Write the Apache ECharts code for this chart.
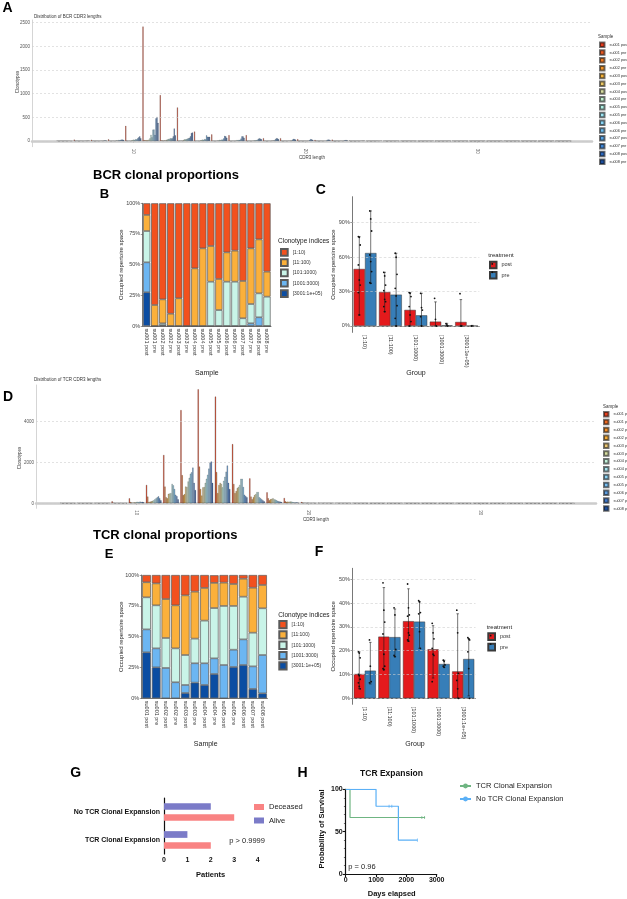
<!DOCTYPE html>
<html>
<head>
<meta charset="utf-8">
<title>BCR / TCR repertoire figure</title>
<script src="https://cdn.jsdelivr.net/npm/echarts@6/dist/echarts.min.js"></script>
<style>
html,body{margin:0;padding:0;background:#ffffff;}
#page{position:relative;width:627px;height:899px;overflow:hidden;background:#fff;}
.layer{position:absolute;left:0;top:0;width:627px;height:899px;}
</style>
</head>
<body>
<div id="page">
  <div id="chartA" class="layer"></div>
  <div id="chartD" class="layer"></div>
  <div id="chartMain" class="layer"></div>
</div>
<script>
// ---------------- DATA ----------------
const cdr3Lengths = [6,7,8,9,10,11,12,13,14,15,16,17,18,19,20,21,22,23,24,25,26,27,28,29,30,31,32,33,34,35];
const cdr3TickLabels = [10,20,30];

const bcrSamples = ['su001 post','su001 pre','su002 post','su002 pre','su003 post','su003 pre','su004 post','su004 pre',
  'su005 post','su005 pre','su006 post','su006 pre','su007 post','su007 pre','su008 post','su008 pre'];
const tcrSamples = ['su001 post','su001 pre','su002 post','su002 pre','su003 post','su003 pre','su004 post','su004 pre',
  'su005 post','su005 pre','su006 post','su007 post','su008 post'];

// BCR clonotype counts per CDR3 length (lengths 6..35)
const bcrSu001Post = [8,30,28,38,320,2420,970,710,200,140,125,125,60,60,40,25,30,12,8,6,5,4,3,2,2,0,1,0,0,1];
const bcrSu001Pre  = [4,6,5,8,12,20,15,10,8,6,5,4,3,3,2,2,1,1,1,0,1,0,0,0,0,0,0,0,0,0];
const bcrSu002Post = [3,5,4,6,10,18,14,12,9,6,5,4,3,2,2,1,1,1,0,0,0,0,0,0,0,0,0,0,0,0];
const bcrSu002Pre  = [2,4,3,5,8,15,12,10,8,6,4,3,2,2,1,1,1,0,0,0,0,0,0,0,0,0,0,0,0,0];
const bcrSu003Post = [3,4,4,6,10,20,15,12,10,8,6,5,4,3,2,2,1,1,1,0,1,0,0,0,0,0,0,0,0,0];
const bcrSu003Pre  = [2,3,3,5,8,15,12,10,8,6,5,4,3,2,2,1,1,1,0,0,0,0,0,0,0,0,0,0,0,0];
const bcrSu004Post = [3,4,5,8,15,30,25,20,15,12,10,8,6,5,4,3,2,1,1,1,2,1,0,0,0,0,0,0,0,0];
const bcrSu004Pre  = [3,5,6,10,20,60,30,35,20,15,12,10,8,6,5,4,3,2,1,1,2,1,1,0,0,0,0,0,0,0];
const bcrSu005Post = [4,6,8,15,30,130,45,35,30,25,20,15,12,10,8,6,5,3,2,2,3,2,1,1,0,0,0,0,0,0];
const bcrSu005Pre  = [4,6,8,12,25,80,40,40,25,20,18,15,12,10,8,6,4,3,2,2,3,2,1,1,0,0,1,0,0,0];
const bcrSu006Post = [5,8,10,20,40,240,60,50,40,30,25,20,15,12,10,8,6,4,3,2,3,2,2,1,1,0,1,0,0,0];
const bcrSu006Pre  = [5,8,10,18,35,245,55,60,35,30,25,20,15,12,10,8,6,4,3,2,3,2,2,1,1,0,1,0,0,1];
const bcrSu007Post = [6,10,12,25,60,130,60,70,120,55,50,45,40,30,25,20,15,10,6,4,4,3,3,2,1,0,2,0,0,1];
const bcrSu007Pre  = [8,12,15,30,80,480,100,100,90,110,100,60,60,45,40,30,20,12,8,5,5,4,3,2,2,0,2,0,0,2];
const bcrSu008Post = [8,12,15,30,100,510,265,170,90,100,100,50,55,40,35,30,20,12,8,5,5,4,3,2,2,0,2,0,0,2];
const bcrSu008Pre  = [6,10,12,25,60,385,120,180,90,70,70,40,40,30,25,20,15,10,6,4,4,3,2,2,1,0,1,0,0,1];

// TCR clonotype counts per CDR3 length (lengths 6..35)
const tcrSu001Post = [10,15,20,100,245,900,2370,4570,5590,5230,2900,1220,540,260,60,30,20,10,5,3,2,1,2,0,0,0,0,0,0,1];
const tcrSu001Pre  = [5,8,10,30,60,330,820,1380,1800,1530,950,330,250,100,40,20,15,8,4,2,1,1,1,0,0,0,0,0,0,1];
const tcrSu002Post = [3,5,8,20,40,60,300,400,700,500,500,200,150,60,30,15,10,5,3,2,2,1,1,0,0,0,0,0,0,0];
const tcrSu002Pre  = [3,5,6,10,30,80,250,450,380,900,600,300,200,80,30,15,10,5,3,2,2,1,1,0,0,0,0,0,0,0];
const tcrSu003Post = [4,6,8,15,50,100,460,820,780,1000,750,400,220,70,25,15,10,5,3,2,2,1,1,0,0,0,0,0,0,0];
const tcrSu003Pre  = [4,6,8,10,40,120,480,800,800,950,800,450,250,90,30,20,10,6,3,2,2,1,1,0,0,0,0,0,0,0];
const tcrSu004Post = [4,5,8,10,60,150,500,1070,1000,780,900,550,200,80,25,15,10,5,3,2,2,1,1,0,0,0,0,0,0,0];
const tcrSu004Pre  = [5,6,10,15,70,200,950,1250,1200,1100,1200,550,180,60,20,15,10,5,3,2,2,1,1,0,0,0,0,0,0,0];
const tcrSu005Post = [5,6,10,10,60,250,880,1450,1400,1300,1200,300,150,50,20,15,10,5,3,2,2,1,1,0,0,0,0,0,0,0];
const tcrSu005Pre  = [5,6,10,10,80,300,700,1520,1700,1550,800,250,120,40,15,10,8,5,3,2,2,1,1,0,0,0,0,0,0,0];
const tcrSu006Post = [4,5,8,8,60,340,420,1750,2000,1850,420,200,100,50,20,10,8,4,2,2,2,1,1,0,0,0,0,0,0,0];
const tcrSu007Post = [6,8,12,12,70,250,350,1000,2050,1000,350,150,80,40,15,10,8,4,2,2,2,1,1,0,0,0,0,0,0,0];
const tcrSu008Post = [5,6,10,10,50,150,200,650,1000,700,300,100,60,30,10,8,6,3,2,2,2,1,1,0,0,0,0,0,0,0];

const bcrYTicks = [0,500,1000,1500,2000,2500];
const tcrYTicks = [0,2000,4000];

// Clonal proportion indices
const clonoNames = ['[1:10)','[11:100)','[101:1000)','[1001:3000)','[3001:1e+05)'];

// B: BCR clonal proportions (%) per sample
const bClono1      = [9.5,82.9,78.3,90,77.4,100,53,36.7,34.8,61.7,40,38.6,63.3,36.7,29.4,55.7];
const bClono11     = [13.1,17.1,19.5,10,22.6,0,47,63.3,29.1,25.3,23.9,25.3,30.4,45.4,44,20.4];
const bClono101    = [25.5,0,1.5,0,0,0,0,0,36.1,13,36.1,36.1,6.3,15.7,19.5,23.9];
const bClono1001   = [24.4,0,0.7,0,0,0,0,0,0,0,0,0,0,2.2,7.1,0];
const bClono3001   = [27.5,0,0,0,0,0,0,0,0,0,0,0,0,0,0,0];

// E: TCR clonal proportions (%) per sample
const eClono1      = [5.9,6.8,19.5,24.6,16.5,13.5,10.5,6.2,6.2,7.3,3,10.3,8.1];
const eClono11     = [12.2,17.8,31.6,34.9,48.4,38.1,26.5,20.4,18.9,17.8,14.6,36.5,18.9];
const eClono101    = [26,34.9,24.3,27.5,24.3,20,34.6,40.8,47.9,35.5,34.6,27.3,37.9];
const eClono1001   = [18.6,15.4,24.6,13,6.5,15.7,17.6,12.7,27,14,20.8,18.3,31.1];
const eClono3001   = [37.3,25.1,0,0,4.3,12.7,10.8,19.7,0,25.4,27,7.6,4];

// C: BCR by group, post vs pre (mean, error range, individual points)
const cPostMean = [49.7,29.6,14,3.8,3.5];
const cPreMean  = [63.6,27.3,9.3,0.6,0.2];
const cPostLow  = [9.6,12.5,0,0,0];
const cPostHigh = [77.9,46.8,29.1,21,23];
const cPreLow   = [37.2,0,0,0,0];
const cPreHigh  = [100.3,63.4,28.5,2.3,0.5];
const cPostPts  = [[77.9,77.3,70.6,53.2,40.1,35.7,29.1,9.6],[46.8,43.6,35.7,30.8,23.2,21.2,16.9,12.5],[29.1,28.5,25.6,16.9,9.6,3.8,0],[24.1,5.8,0],[28.2,0,0]];
const cPrePts   = [[100.3,93.3,82.8,61.9,56.1,47.4,37.8,37.2],[63.4,59.9,45,32.8,26.2,17.7,6.7,0],[28.5,16,13.9,8.1,0],[2,0.9,0],[0]];

// F: TCR by group, post vs pre
const fPostMean = [10.2,25.9,32.4,20.6,11.3];
const fPreMean  = [11.6,25.7,32.2,14.4,16.5];
const fPostLow  = [4,12,24,8.5,0];
const fPostHigh = [19.5,46.5,46,30.5,35.5];
const fPreLow   = [6,17.5,21,13,1];
const fPreHigh  = [23.5,37.5,40.5,16,25];
const fPostPts  = [[19.5,19,17,10,9.5,8,6.5,5,4],[48.5,37,32,27,18.5,13.5,12.5,12],[48,38,35,34.5,27.5,26.5,24.5,24],[31.5,27.5,25,21,18.5,18,7],[37,27.5,10.5,7.5,4,0]];
const fPrePts   = [[24.5,13.5,7,6.5],[38,35,20.5,18,17.5],[41,40.5,36,35.5,28,21],[16,15.5,14,13.5,13],[25.5,25,24.5,19.5,12.5,0]];

const cTicks = [0,30,60,90];
const fTicks = [0,10,20,30,40,50];

// G: patients
const gCategories = ['TCR Clonal Expansion','No TCR Clonal Expansion'];
const gDeceased = [2,3];
const gAlive    = [1,2];

// H: Kaplan-Meier
const hTcrDays    = [0,142,2617];
const hTcrSurv    = [100,66.7,66.7];
const hTcrCensorDays = [2510,2600];
const hTcrCensorSurv = [66.7,66.7];
const hNoTcrDays  = [0,1000,1737,2363];
const hNoTcrSurv  = [100,80,40,40];
const hNoTcrCensorDays = [1430,1520,2363];
const hNoTcrCensorSurv = [80,80,40];

// ---------------- STYLE ----------------
const FONT = "'Liberation Sans', Arial, Helvetica, sans-serif";
const bcrColors = ['#E63B1C','#EC5A20','#F07A24','#F3962A','#F3B038','#EBC866','#D6DCA0','#C2F0D0',
  '#B0F0E4','#9DE4F2','#88D4F5','#70BEF0','#58A4E6','#3E86D6','#2C68BE','#1B4E9E'];
const tcrColors = ['#E8411E','#EE6A22','#F28E2A','#F5AC36','#EDC874','#D8DEA2','#C4F2DC','#A9E6F0',
  '#8ED4F4','#78BEF0','#5E9EE0','#3F78CC','#1C4FA2'];
const clonoColors = ['#F2511E','#FBB03B','#C9F4E8','#6CB6F2','#0B4DA2'];
const postColor = '#E41A1C', preColor = '#377EB8';
const plain = v => String(v);

// ---------------- PANELS A & D ----------------
function makeLengthPanel(domId, cfg) {
  const chart = echarts.init(document.getElementById(domId));
  const unit = cfg.gridW / (cfg.xMax - cfg.xMin);
  const bw = unit * 0.9 / cfg.samples.length;
  const series = cfg.samples.map((name, k) => ({
    name, type: 'bar', barWidth: bw, barGap: '0%', animation: false, silent: true, z: 3,
    data: cdr3Lengths.map((L, i) => [L, cfg.counts[k][i]]),
    itemStyle: { color: cfg.colors[k], borderColor: 'rgba(20,20,20,0.6)', borderWidth: 0.4 }
  }));
  series.push({
    type: 'line', data: [], z: 1, silent: true,
    markLine: { silent: true, symbol: ['none','none'], label: { show: false }, animation: false,
      lineStyle: { type: [2,2], color: '#cfcfcf', width: 0.6 },
      data: cfg.yTicks.map(v => ({ yAxis: v })) }
  });
  chart.setOption({
    animation: false,
    textStyle: { fontFamily: FONT },
    grid: { left: cfg.gridL, top: cfg.gridT, width: cfg.gridW, height: cfg.gridH },
    xAxis: { type: 'value', min: cfg.xMin, max: cfg.xMax,
      axisLine: { lineStyle: { color: '#cccccc', width: 2.5 } },
      axisTick: { show: true, customValues: cdr3TickLabels, length: 1.5, lineStyle: { color: '#999', width: 0.5 } },
      axisLabel: { customValues: cdr3TickLabels, formatter: plain, rotate: -90, fontSize: 4.5, color: '#555', margin: 2 },
      splitLine: { show: false } },
    yAxis: { type: 'value', min: cfg.yMin, max: cfg.yMax,
      axisLine: { show: true, lineStyle: { color: '#aaaaaa', width: 0.5 } },
      axisTick: { show: false },
      axisLabel: { customValues: cfg.yTicks, formatter: plain, fontSize: 4.5, color: '#555', margin: 2 },
      splitLine: { show: false } },
    legend: { orient: 'vertical', left: cfg.legL, top: cfg.legT, padding: 0, icon: 'rect',
      itemWidth: 4.5, itemHeight: 4.5, itemGap: cfg.legGap, selectedMode: false,
      textStyle: { fontSize: 3.8, color: '#333' }, data: cfg.samples },
    series
  });
}

makeLengthPanel('chartA', {
  samples: bcrSamples, colors: bcrColors,
  counts: [bcrSu001Post,bcrSu001Pre,bcrSu002Post,bcrSu002Pre,bcrSu003Post,bcrSu003Pre,bcrSu004Post,bcrSu004Pre,
           bcrSu005Post,bcrSu005Pre,bcrSu006Post,bcrSu006Pre,bcrSu007Post,bcrSu007Pre,bcrSu008Post,bcrSu008Pre],
  gridL: 32, gridT: 20, gridW: 560, gridH: 126.7, xMin: 4.11, xMax: 36.67, yMin: -120, yMax: 2558,
  yTicks: bcrYTicks, legL: 599, legT: 41.5, legGap: 1.3
});
makeLengthPanel('chartD', {
  samples: tcrSamples, colors: tcrColors,
  counts: [tcrSu001Post,tcrSu001Pre,tcrSu002Post,tcrSu002Pre,tcrSu003Post,tcrSu003Pre,tcrSu004Post,tcrSu004Pre,
           tcrSu005Post,tcrSu005Pre,tcrSu006Post,tcrSu007Post,tcrSu008Post],
  gridL: 36, gridT: 385, gridW: 560, gridH: 123.3, xMin: 4.16, xMax: 36.7, yMin: -245, yMax: 5800,
  yTicks: tcrYTicks, legL: 603, legT: 411, legGap: 1.35
});

// ---------------- MAIN (B, C, E, F, G, H) ----------------
const main = echarts.init(document.getElementById('chartMain'));

function txt(text, x, y, o) {
  o = o || {};
  const al = o.align || 'center', va = o.valign || 'middle';
  return { type: 'text', x, y, rotation: o.rot || 0, silent: true, z: 100,
    style: { text, font: (o.bold ? 'bold ' : '') + (o.size || 6) + 'px ' + FONT, fill: o.color || '#222',
      align: al, verticalAlign: va, textAlign: al, textVerticalAlign: va } };
}

function catXAxis(gridIndex, data, fs) {
  return { type: 'category', gridIndex, data,
    axisLine: { lineStyle: { color: '#555', width: 0.8 } },
    axisTick: { alignWithLabel: true, length: 2, lineStyle: { color: '#555', width: 0.6 } },
    axisLabel: { rotate: -90, fontSize: fs, color: '#333', margin: 2.5, interval: 0 } };
}
function pctYAxis(gridIndex, min, max, ticks) {
  return { type: 'value', gridIndex, min, max,
    axisLine: { show: true, lineStyle: { color: '#555', width: 0.8 } },
    axisTick: { show: true, customValues: ticks, length: 2, lineStyle: { color: '#555', width: 0.6 } },
    axisLabel: { customValues: ticks, formatter: v => v + '%', fontSize: 5.5, color: '#444', margin: 2.5 },
    splitLine: { show: false } };
}

function stackSeries(xi, arrays, stackId) {
  const out = [];
  for (let j = 4; j >= 0; j--) {
    out.push({ name: clonoNames[j], type: 'bar', stack: stackId, xAxisIndex: xi, yAxisIndex: xi,
      data: arrays[j], barCategoryGap: '10%', silent: true,
      itemStyle: { color: clonoColors[j], borderColor: '#5a5a5a', borderWidth: 0.7 } });
  }
  return out;
}

function gridLineSeries(xi, values) {
  return { type: 'line', data: [], xAxisIndex: xi, yAxisIndex: xi, z: 1, silent: true,
    markLine: { silent: true, symbol: ['none','none'], label: { show: false }, animation: false,
      lineStyle: { type: [2.5,2], color: '#cfcfcf', width: 0.6 }, data: values.map(v => ({ yAxis: v })) } };
}

function groupBars(xi, postMean, preMean) {
  return [
    { name: 'post', type: 'bar', xAxisIndex: xi, yAxisIndex: xi, data: postMean, barGap: '0%', barCategoryGap: '10%', z: 2,
      silent: true, itemStyle: { color: postColor, borderColor: '#3a3a3a', borderWidth: 0.5 } },
    { name: 'pre', type: 'bar', xAxisIndex: xi, yAxisIndex: xi, data: preMean, barGap: '0%', barCategoryGap: '10%', z: 2,
      silent: true, itemStyle: { color: preColor, borderColor: '#3a3a3a', borderWidth: 0.5 } }
  ];
}

function errBars(xi, lows, highs, side) {
  return { type: 'custom', xAxisIndex: xi, yAxisIndex: xi, z: 5, silent: true,
    data: lows.map((lo, i) => [i, lo, highs[i]]),
    renderItem: (params, api) => {
      const bw = api.size([1, 0])[0];
      const c = api.value(0);
      const lo = api.coord([c, api.value(1)]);
      const hi = api.coord([c, api.value(2)]);
      const x = lo[0] + side * bw * 0.225;
      const cap = bw * 0.05;
      const st = { stroke: '#1a1a1a', lineWidth: 0.6 };
      return { type: 'group', children: [
        { type: 'line', shape: { x1: x, y1: lo[1], x2: x, y2: hi[1] }, style: st },
        { type: 'line', shape: { x1: x - cap, y1: lo[1], x2: x + cap, y2: lo[1] }, style: st },
        { type: 'line', shape: { x1: x - cap, y1: hi[1], x2: x + cap, y2: hi[1] }, style: st } ] };
    } };
}

function pointSeries(xi, pts, side) {
  const data = [];
  pts.forEach((arr, g) => arr.forEach((v, k) => data.push([g, v, k])));
  return { type: 'custom', xAxisIndex: xi, yAxisIndex: xi, z: 6, silent: true, data,
    renderItem: (params, api) => {
      const bw = api.size([1, 0])[0];
      const p = api.coord([api.value(0), api.value(1)]);
      const k = api.value(2);
      const jit = ((k % 3) - 1) * bw * 0.035;
      return { type: 'circle', shape: { cx: p[0] + side * bw * 0.225 + jit, cy: p[1], r: 0.9 }, style: { fill: '#111' } };
    } };
}

const grids = [
  { left: 142.7, top: 203.3, width: 128.3, height: 122.7 },  // B
  { left: 352.3, top: 196.7, width: 127,   height: 135.7 },  // C
  { left: 141.7, top: 575,   width: 125.7, height: 123.3 },  // E
  { left: 352.5, top: 568.3, width: 123,   height: 136 },    // F
  { left: 164,   top: 798,   width: 93.6,  height: 56 },     // G
  { left: 345.7, top: 789.3, width: 91,    height: 84.7 }    // H
];

const prismAxisLine = { lineStyle: { color: '#111', width: 1.2 } };
const prismLabel = { fontSize: 7, fontWeight: 'bold', color: '#111', margin: 3, formatter: plain };

const xAxes = [
  catXAxis(0, bcrSamples, 5.5),
  catXAxis(1, clonoNames, 5.5),
  catXAxis(2, tcrSamples, 5.5),
  catXAxis(3, clonoNames, 5.5),
  { type: 'value', gridIndex: 4, min: 0, max: 4, interval: 1, axisLine: prismAxisLine,
    axisTick: { length: 3, lineStyle: { color: '#111', width: 1.1 } }, axisLabel: prismLabel, splitLine: { show: false } },
  { type: 'value', gridIndex: 5, min: 0, max: 3000, interval: 1000, axisLine: prismAxisLine,
    axisTick: { length: 3, lineStyle: { color: '#111', width: 1.1 } }, axisLabel: prismLabel, splitLine: { show: false } }
];
const yAxes = [
  pctYAxis(0, 0, 100, [0,25,50,75,100]),
  pctYAxis(1, -5.6, 112.7, cTicks),
  pctYAxis(2, 0, 100, [0,25,50,75,100]),
  pctYAxis(3, -2.52, 54.6, fTicks),
  { type: 'category', gridIndex: 4, data: gCategories, axisLine: prismAxisLine,
    axisTick: { alignWithLabel: true, length: 3, lineStyle: { color: '#111', width: 1.1 } },
    axisLabel: { fontSize: 7, fontWeight: 'bold', color: '#111', margin: 4 } },
  { type: 'value', gridIndex: 5, min: 0, max: 100, interval: 50, axisLine: prismAxisLine,
    axisTick: { length: 3, lineStyle: { color: '#111', width: 1.1 } },
    minorTick: { show: true, splitNumber: 5, length: 1.8, lineStyle: { color: '#111', width: 0.6 } },
    axisLabel: prismLabel, splitLine: { show: false } }
];

const series = [].concat(
  stackSeries(0, [bClono1, bClono11, bClono101, bClono1001, bClono3001], 'B'),
  [gridLineSeries(1, cTicks)],
  groupBars(1, cPostMean, cPreMean),
  [errBars(1, cPostLow, cPostHigh, -1), errBars(1, cPreLow, cPreHigh, 1),
   pointSeries(1, cPostPts, -1), pointSeries(1, cPrePts, 1)],
  stackSeries(2, [eClono1, eClono11, eClono101, eClono1001, eClono3001], 'E'),
  [gridLineSeries(3, fTicks)],
  groupBars(3, fPostMean, fPreMean),
  [errBars(3, fPostLow, fPostHigh, -1), errBars(3, fPreLow, fPreHigh, 1),
   pointSeries(3, fPostPts, -1), pointSeries(3, fPrePts, 1)],
  [
    { name: 'Alive', type: 'bar', xAxisIndex: 4, yAxisIndex: 4, data: gAlive, barWidth: 6.7, barGap: '64%',
      silent: true, itemStyle: { color: '#7B7BC8' } },
    { name: 'Deceased', type: 'bar', xAxisIndex: 4, yAxisIndex: 4, data: gDeceased, barWidth: 6.7, barGap: '64%',
      silent: true, itemStyle: { color: '#F98383' } },
    { name: 'TCR Clonal Expansion', type: 'line', step: 'end', xAxisIndex: 5, yAxisIndex: 5, symbol: 'none',
      data: hTcrDays.map((d, i) => [d, hTcrSurv[i]]), lineStyle: { color: '#6FB582', width: 1.2 }, itemStyle: { color: '#6FB582' }, silent: true },
    { name: 'No TCR Clonal Expansion', type: 'line', step: 'end', xAxisIndex: 5, yAxisIndex: 5, symbol: 'none',
      data: hNoTcrDays.map((d, i) => [d, hNoTcrSurv[i]]), lineStyle: { color: '#5BB0F6', width: 1.2 }, itemStyle: { color: '#5BB0F6' }, silent: true },
    { type: 'scatter', xAxisIndex: 5, yAxisIndex: 5, symbol: 'rect', symbolSize: [0.9, 3.2], silent: true,
      data: hTcrCensorDays.map((d, i) => [d, hTcrCensorSurv[i]]), itemStyle: { color: '#6FB582' } },
    { type: 'scatter', xAxisIndex: 5, yAxisIndex: 5, symbol: 'rect', symbolSize: [0.9, 3.2], silent: true,
      data: hNoTcrCensorDays.map((d, i) => [d, hNoTcrCensorSurv[i]]), itemStyle: { color: '#5BB0F6' } }
  ]
);

const legends = [
  { orient: 'vertical', left: 280, top: 248, padding: 0, icon: 'rect', itemWidth: 6.7, itemHeight: 6.7, itemGap: 1.6,
    selectedMode: false, textStyle: { fontSize: 5, color: '#333' }, data: clonoNames },
  { orient: 'vertical', left: 278.3, top: 620, padding: 0, icon: 'rect', itemWidth: 7.3, itemHeight: 7.3, itemGap: 1.0,
    selectedMode: false, textStyle: { fontSize: 5, color: '#333' }, data: clonoNames },
  { orient: 'vertical', left: 489, top: 260.7, padding: 0, icon: 'rect', itemWidth: 6.5, itemHeight: 6.5, itemGap: 1.8,
    selectedMode: false, textStyle: { fontSize: 5.5, color: '#333' }, data: ['post','pre'] },
  { orient: 'vertical', left: 487.3, top: 632.3, padding: 0, icon: 'rect', itemWidth: 6.7, itemHeight: 6.7, itemGap: 1.7,
    selectedMode: false, textStyle: { fontSize: 5.5, color: '#333' }, data: ['post','pre'] },
  { orient: 'vertical', left: 254, top: 803, padding: 0, icon: 'rect', itemWidth: 10, itemHeight: 6, itemGap: 5.5,
    selectedMode: false, textStyle: { fontSize: 7.5, color: '#222' }, data: ['Deceased','Alive'] },
  { orient: 'vertical', left: 459, top: 782, padding: 0, itemWidth: 11, itemHeight: 6, itemGap: 5,
    selectedMode: false, textStyle: { fontSize: 7.5, color: '#222' }, data: ['TCR Clonal Expansion','No TCR Clonal Expansion'] }
];

const graphics = [
  // panel letters
  txt('A', 7.5, 8.5, { bold: true, size: 14, color: '#000' }),
  txt('B', 104.5, 194.5, { bold: true, size: 13, color: '#000' }),
  txt('C', 320.8, 190, { bold: true, size: 14, color: '#000' }),
  txt('D', 8, 397, { bold: true, size: 14, color: '#000' }),
  txt('E', 109, 554, { bold: true, size: 13, color: '#000' }),
  txt('F', 319, 551.7, { bold: true, size: 14, color: '#000' }),
  txt('G', 75.7, 773.3, { bold: true, size: 14, color: '#000' }),
  txt('H', 302.5, 773.3, { bold: true, size: 14, color: '#000' }),
  // headings
  txt('BCR clonal proportions', 93, 175.5, { bold: true, size: 13, color: '#000', align: 'left' }),
  txt('TCR clonal proportions', 93, 535.5, { bold: true, size: 13, color: '#000', align: 'left' }),
  // A texts
  txt('Distribution of BCR CDR3 lengths', 34, 16.7, { size: 4.5, color: '#333', align: 'left' }),
  txt('Clonotypes', 18, 82, { size: 4.5, color: '#333', rot: Math.PI / 2 }),
  txt('CDR3 length', 312, 157.5, { size: 4.5, color: '#333' }),
  txt('Sample', 598, 36.5, { size: 4.5, color: '#333', align: 'left' }),
  // D texts
  txt('Distribution of TCR CDR3 lengths', 34, 379.5, { size: 4.5, color: '#333', align: 'left' }),
  txt('Clonotypes', 20, 458, { size: 4.5, color: '#333', rot: Math.PI / 2 }),
  txt('CDR3 length', 316, 519.5, { size: 4.5, color: '#333' }),
  txt('Sample', 603, 406.5, { size: 4.5, color: '#333', align: 'left' }),
  // B / C texts
  txt('Occupied repertoire space', 121.7, 264.7, { size: 6, color: '#222', rot: Math.PI / 2 }),
  txt('Sample', 206.8, 373, { size: 7, color: '#222' }),
  txt('Clonotype indices', 278, 241.7, { size: 6.5, color: '#222', align: 'left' }),
  txt('Occupied repertoire space', 333.3, 264.5, { size: 6, color: '#222', rot: Math.PI / 2 }),
  txt('Group', 416, 373, { size: 7, color: '#222' }),
  txt('treatment', 488.3, 255, { size: 6, color: '#222', align: 'left' }),
  // E / F texts
  txt('Occupied repertoire space', 121.7, 636.7, { size: 6, color: '#222', rot: Math.PI / 2 }),
  txt('Sample', 205.7, 744, { size: 7, color: '#222' }),
  txt('Clonotype indices', 278.3, 615, { size: 6.5, color: '#222', align: 'left' }),
  txt('Occupied repertoire space', 333.3, 636.3, { size: 6, color: '#222', rot: Math.PI / 2 }),
  txt('Group', 415, 744, { size: 7, color: '#222' }),
  txt('treatment', 486.7, 627.3, { size: 6, color: '#222', align: 'left' }),
  // legend key dots (C, F)
  { type: 'circle', shape: { cx: 492.25, cy: 263.95, r: 0.9 }, style: { fill: '#111' }, silent: true, z: 100 },
  { type: 'circle', shape: { cx: 492.25, cy: 272.25, r: 0.9 }, style: { fill: '#111' }, silent: true, z: 100 },
  { type: 'circle', shape: { cx: 490.65, cy: 635.65, r: 0.9 }, style: { fill: '#111' }, silent: true, z: 100 },
  { type: 'circle', shape: { cx: 490.65, cy: 644.05, r: 0.9 }, style: { fill: '#111' }, silent: true, z: 100 },
  // G texts
  txt('Patients', 210.7, 875, { bold: true, size: 7.5, color: '#111' }),
  txt('p > 0.9999', 229.3, 841, { size: 7.5, color: '#222', align: 'left' }),
  // H texts
  txt('TCR Expansion', 391.5, 773.3, { bold: true, size: 8.5, color: '#111' }),
  txt('Probability of Survival', 321.7, 829, { bold: true, size: 7.5, color: '#111', rot: Math.PI / 2 }),
  txt('Days elapsed', 391.7, 894, { bold: true, size: 7.5, color: '#111' }),
  txt('p = 0.96', 348.3, 867.3, { size: 7.5, color: '#222', align: 'left' })
];

main.setOption({
  animation: false,
  textStyle: { fontFamily: FONT },
  grid: grids,
  xAxis: xAxes,
  yAxis: yAxes,
  legend: legends,
  series,
  graphic: graphics
});
</script>
</body>
</html>
